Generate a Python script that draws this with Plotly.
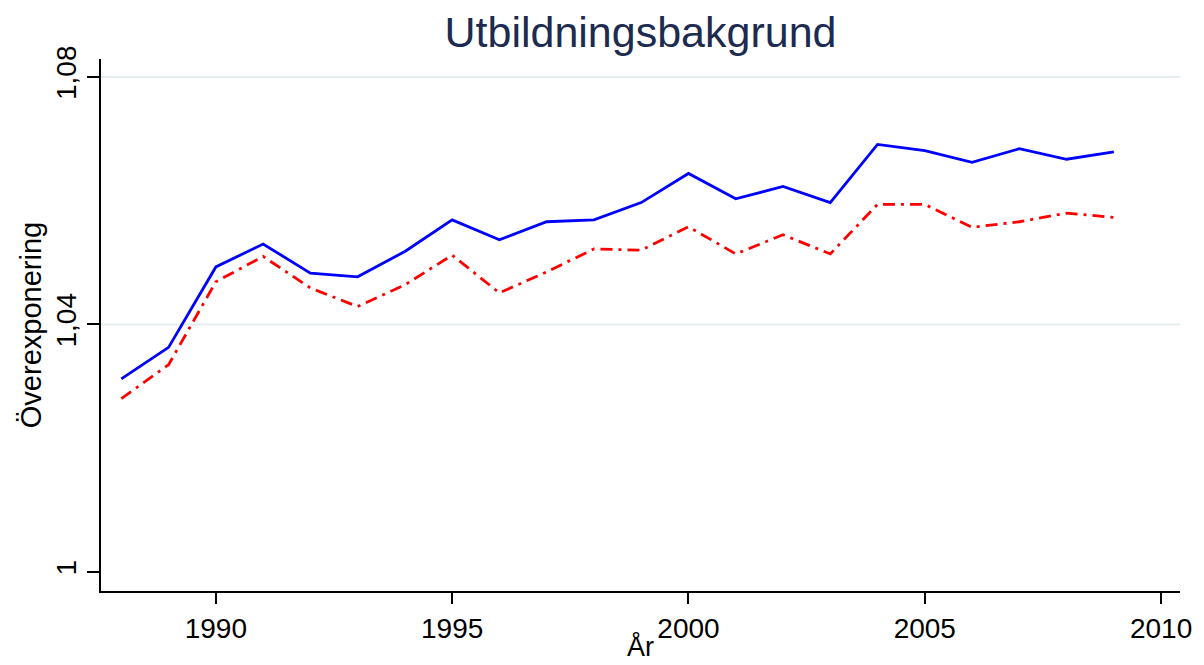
import plotly.graph_objects as go

years = list(range(1988, 2010))
blue_vals = [1.0312, 1.0363, 1.0493, 1.0530, 1.0483, 1.0477, 1.0518, 1.0569, 1.0537, 1.0566,
             1.0569, 1.0597, 1.0644, 1.0603, 1.0623, 1.0597, 1.0691, 1.0681, 1.0662, 1.0684,
             1.0667, 1.0679]
red_vals = [1.0280, 1.0335, 1.0469, 1.0510, 1.0459, 1.0429, 1.0464, 1.0512, 1.0451, 1.0485,
            1.0522, 1.0520, 1.0558, 1.0514, 1.0545, 1.0514, 1.0594, 1.0594, 1.0557, 1.0566,
            1.0580, 1.0573]
x_ticks = [1990, 1995, 2000, 2005, 2010]
y_ticks = [1.0, 1.04, 1.08]
y_tick_text = ["1", "1,04", "1,08"]
grid_vals = [1.04, 1.08]

FONT = "Arial, Liberation Sans, sans-serif"

fig = go.Figure()
fig.add_trace(go.Scatter(x=years, y=blue_vals, mode="lines",
                         line=dict(color="#0000ff", width=2.8), showlegend=False))
fig.add_trace(go.Scatter(x=years, y=red_vals, mode="lines",
                         line=dict(color="#ff0000", width=2.8, dash="12px,6px,3px,6px"),
                         showlegend=False))

for g in grid_vals:
    fig.add_shape(type="line", xref="paper", x0=0, x1=1, yref="y", y0=g, y1=g,
                  line=dict(color="#e4eef0", width=2), layer="below")

fig.update_layout(
    width=1196, height=657,
    margin=dict(l=93, r=21, t=51, b=74),
    paper_bgcolor="white", plot_bgcolor="white",
    font=dict(family=FONT, color="black"),
    title=dict(text="Utbildningsbakgrund", xref="paper", x=0.5, xanchor="center",
               yref="container", y=0.963, yanchor="middle",
               font=dict(size=43, color="#1c2b4f", family=FONT)),
    xaxis=dict(range=[1987.57, 2010.4], tickvals=x_ticks, ticks="outside", ticklen=11,
               tickwidth=2, tickcolor="black", showline=True, linecolor="black", linewidth=2,
               showgrid=False, zeroline=False, tickfont=dict(size=28, family=FONT)),
    yaxis=dict(range=[0.99693, 1.0829], tickvals=y_ticks, ticktext=y_tick_text, tickangle=-90,
               ticks="outside", ticklen=12, tickwidth=2, tickcolor="black", showline=True,
               linecolor="black", linewidth=2, showgrid=False, zeroline=False,
               tickfont=dict(size=28, family=FONT)),
    annotations=[
        dict(text="Överexponering", xref="paper", yref="paper", x=-0.0647, y=0.5,
             xanchor="center", yanchor="middle", textangle=-90, showarrow=False,
             font=dict(size=29, family=FONT, color="black")),
        dict(text="År", xref="paper", yref="paper", x=0.5, y=-0.105,
             xanchor="center", yanchor="middle", showarrow=False,
             font=dict(size=27, family=FONT, color="black")),
    ],
)

fig.write_html("out.html")
